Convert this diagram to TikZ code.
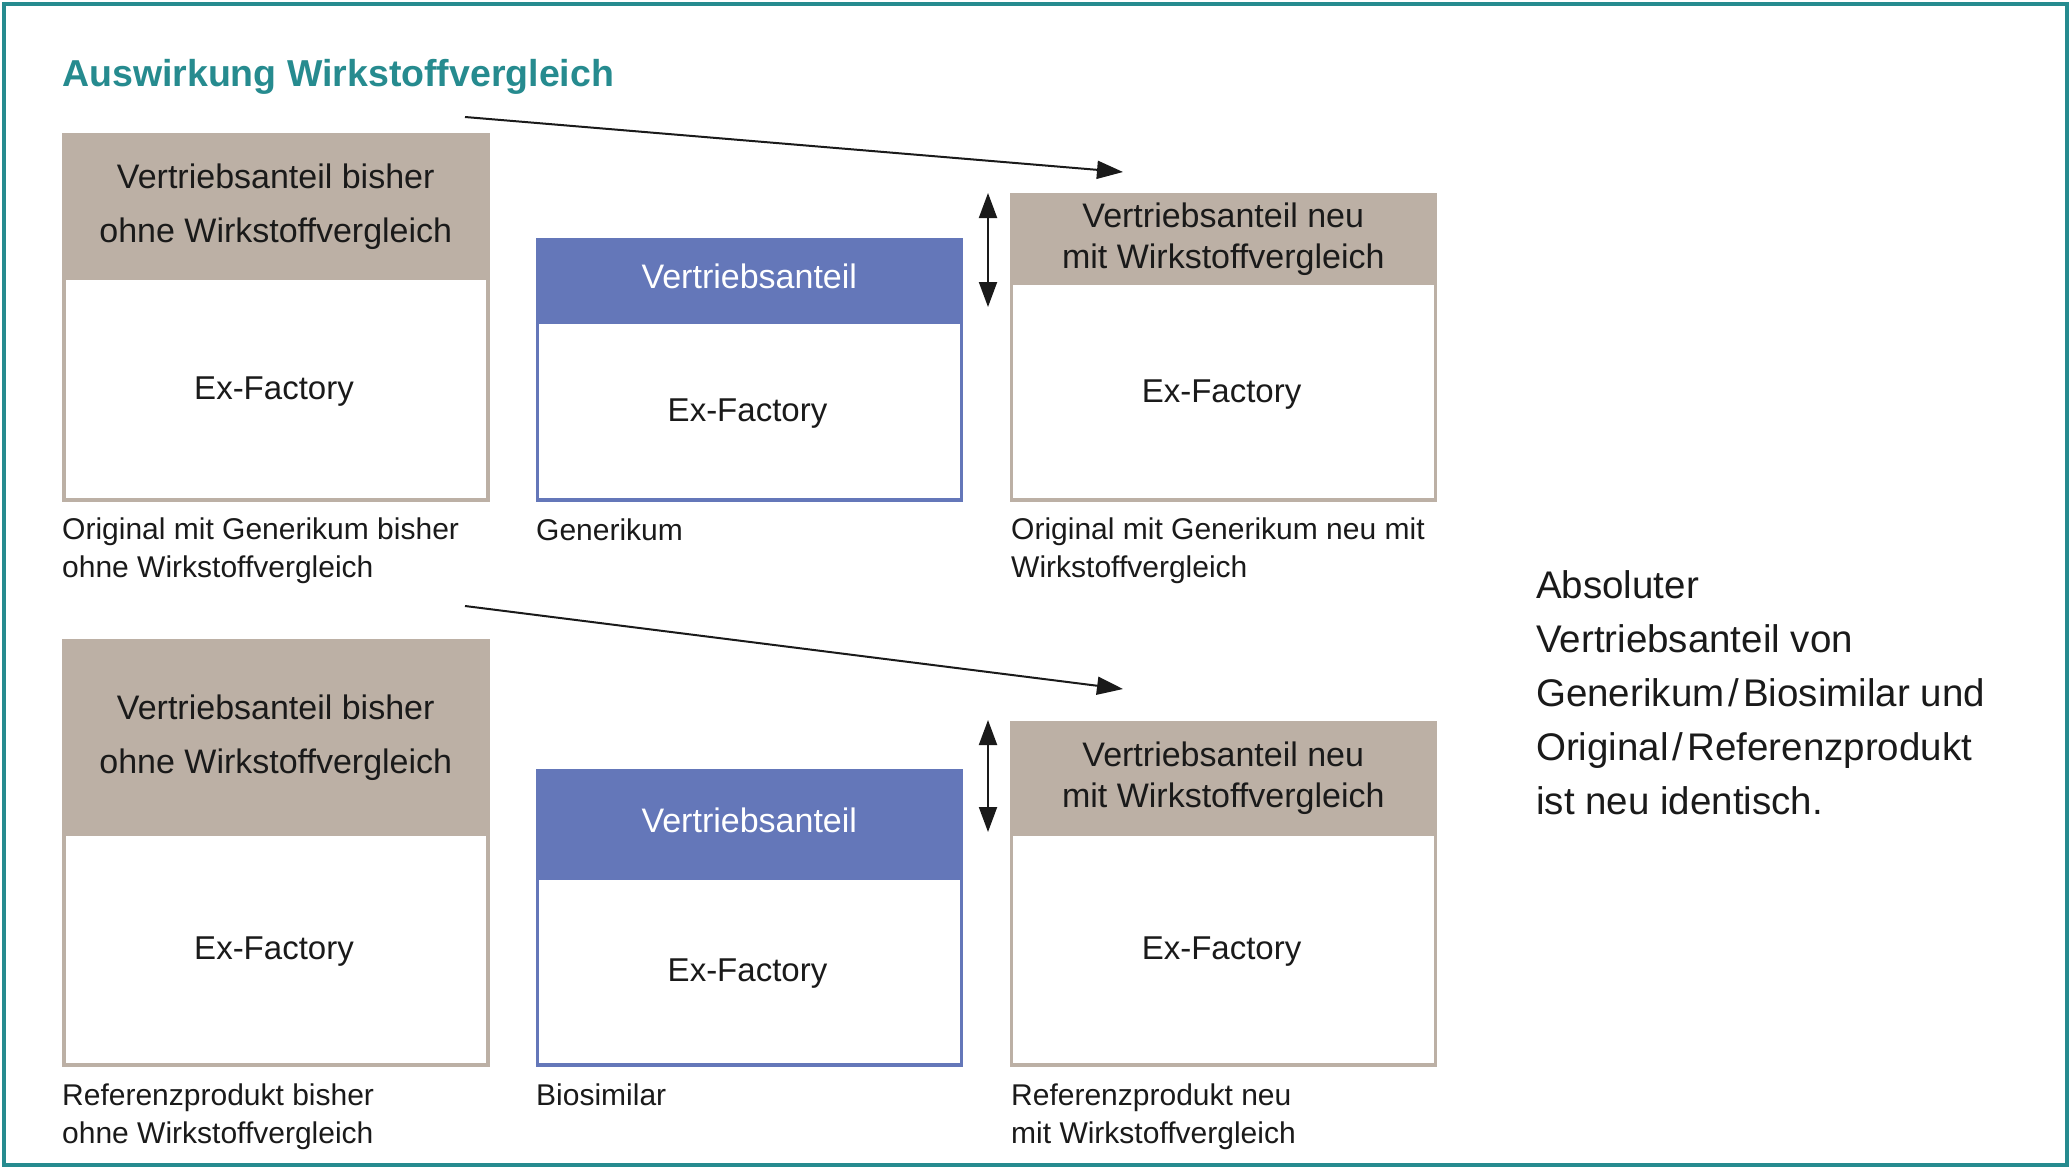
\documentclass[tikz,border=0pt]{standalone}
\usepackage{fontspec}
\setmainfont{Liberation Sans}
\usetikzlibrary{arrows.meta}
\definecolor{tealc}{RGB}{38,139,143}
\definecolor{beigec}{RGB}{188,176,165}
\definecolor{bluec}{RGB}{100,119,185}
\definecolor{txtc}{RGB}{26,26,26}
\newcommand{\slsh}{\kern4pt/\kern4pt}
\begin{document}
\begin{tikzpicture}[x=1pt,y=-1pt,
  outb/.style={draw=beigec,line width=3.5pt,fill=white,anchor=north west,inner sep=0pt,minimum width=424pt},
  outbl/.style={outb,draw=bluec},
  hb/.style={draw=beigec,line width=3.5pt,fill=beigec,anchor=north west,inner sep=0pt,minimum width=424pt,align=center,text=txtc,font=\fontsize{34}{54}\selectfont},
  hbn/.style={hb,font=\fontsize{34}{41}\selectfont},
  hbl/.style={hb,draw=bluec,fill=bluec,text=white,text height=24.5pt,text depth=9pt},
  ex/.style={text=txtc,inner sep=0pt,text height=25pt,text depth=0pt,font=\fontsize{33}{40}\selectfont},
  capt/.style={anchor=base west,inner sep=0pt,align=left,text=txtc,font=\fontsize{30}{37.5}\selectfont},
  arr/.style={-{Triangle[length=26pt,width=18pt]},line width=2pt,draw=txtc},
  darr/.style={{Triangle[length=25pt,width=18pt]}-{Triangle[length=25pt,width=18pt]},line width=2pt,draw=txtc}
]
\useasboundingbox (0,0) rectangle (2071,1169);
\fill[white] (0,0) rectangle (2071,1169);
\draw[tealc,line width=4pt] (4,4) rectangle (2067,1165);

\node[anchor=base west,inner sep=0pt,text=tealc,font=\fontsize{37.5}{45}\selectfont\bfseries] (title) at (62,87) {Auswirkung Wirkstoffvergleich};

% top row
\node[outb,minimum height=365pt] (A1) at (62,133) {};
\node[hb,minimum height=143pt] (A1h) at (62,133) {Vertriebsanteil bisher\\ohne Wirkstoffvergleich};
\node[ex] (A1x) at (274,387) {Ex-Factory};

\node[outbl,minimum height=260pt] (B1) at (535.5,238) {};
\node[hbl,minimum height=82pt] (B1h) at (535.5,238) {Vertriebsanteil};
\node[ex] (B1x) at (747.5,409) {Ex-Factory};

\node[outb,minimum height=305pt] (C1) at (1009.5,193) {};
\node[hbn,minimum height=88pt] (C1h) at (1009.5,193) {Vertriebsanteil neu\\mit Wirkstoffvergleich};
\node[ex] (C1x) at (1221.5,390) {Ex-Factory};

\node[capt] (A1c) at (62,577) {Original mit Generikum bisher\\ohne Wirkstoffvergleich};
\node[capt] (B1c) at (536,540) {Generikum};
\node[capt] (C1c) at (1011,577) {Original mit Generikum neu mit\\Wirkstoffvergleich};

% bottom row
\node[outb,minimum height=424pt] (A2) at (62,639) {};
\node[hb,minimum height=193pt] (A2h) at (62,639) {Vertriebsanteil bisher\\ohne Wirkstoffvergleich};
\node[ex] (A2x) at (274,947) {Ex-Factory};

\node[outbl,minimum height=294pt] (B2) at (535.5,769) {};
\node[hbl,minimum height=107pt] (B2h) at (535.5,769) {Vertriebsanteil};
\node[ex] (B2x) at (747.5,969) {Ex-Factory};

\node[outb,minimum height=342pt] (C2) at (1009.5,721) {};
\node[hbn,minimum height=111pt] (C2h) at (1009.5,721) {Vertriebsanteil neu\\mit Wirkstoffvergleich};
\node[ex] (C2x) at (1221.5,947) {Ex-Factory};

\node[capt] (A2c) at (62,1143) {Referenzprodukt bisher\\ohne Wirkstoffvergleich};
\node[capt] (B2c) at (536,1105) {Biosimilar};
\node[capt] (C2c) at (1011,1143) {Referenzprodukt neu\\mit Wirkstoffvergleich};

% right text
\node[anchor=base west,inner sep=0pt,align=left,text=txtc,font=\fontsize{38.5}{54}\selectfont] (note) at (1536,814)
  {Absoluter\\Vertriebsanteil von\\Generikum\slsh Biosimilar und\\Original\slsh Referenzprodukt\\ist neu identisch.};

% arrows
\coordinate (a1s) at (465,117);
\coordinate (a1e) at (1123,172);
\draw[arr] (a1s) -- (a1e);
\coordinate (a2s) at (465,606);
\coordinate (a2e) at (1123,689);
\draw[arr] (a2s) -- (a2e);
\coordinate (d1t) at (988,193);
\coordinate (d1b) at (988,307);
\draw[darr] (d1t) -- (d1b);
\coordinate (d2t) at (988,720);
\coordinate (d2b) at (988,832);
\draw[darr] (d2t) -- (d2b);
\end{tikzpicture}
\end{document}
